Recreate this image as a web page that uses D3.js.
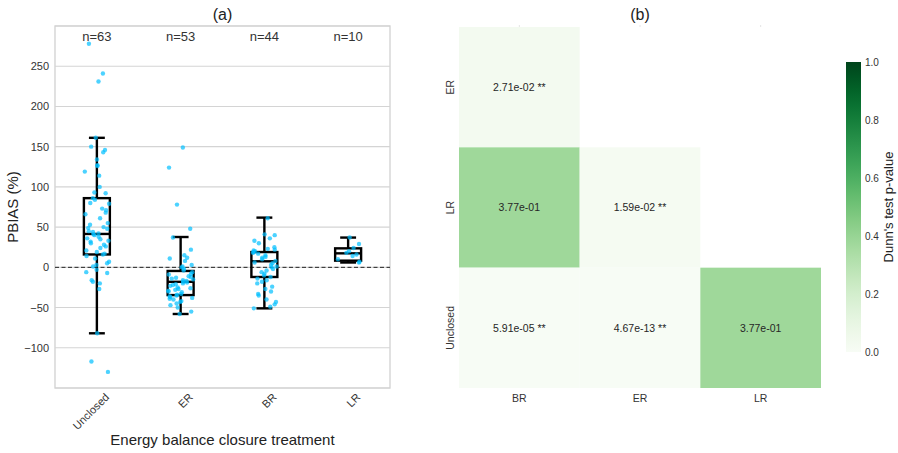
<!DOCTYPE html>
<html><head><meta charset="utf-8">
<script src="https://cdn.jsdelivr.net/npm/d3@7"></script>
<style>body{margin:0;background:#fff} svg{font-family:"Liberation Sans",Arial,sans-serif}</style>
</head><body><svg id="c" width="898" height="453"></svg>
<script>
// ---------- data: panel (a) ----------
const categories = ["Unclosed", "ER", "BR", "LR"];
const countLabels = ["n=63", "n=53", "n=44", "n=10"];
const unclosedVals = [278,241,231,161,150,146,143,134,127,126,119,114,100,93,92,86,84,80,79,73,71,68,66,61,55,53,50,49,48,45,44,42,41,40,38,36,35,33,32,30,28,26,24,21,19,17,16,14,11,7,5,3,1,-3,-6,-7,-16,-18,-20,-27,-82,-117,-130];
const erVals = [149,124,78,48,37,22,15,12,11,8,3,1,0,-2,-4,-6,-8,-9,-11,-12,-13,-14,-15,-16,-17,-18,-19,-20,-21,-22,-23,-25,-26,-27,-28,-29,-30,-31,-33,-34,-35,-36,-37,-38,-39,-40,-42,-43,-45,-47,-50,-55,-58];
const brVals = [61,41,40,36,33,30,25,23,22,21,20,19,18,17,15,13,12,10,8,6,5,3,1,0,-2,-4,-6,-8,-10,-12,-14,-16,-18,-20,-24,-27,-30,-33,-35,-40,-43,-46,-49,-51];
const lrVals = [37,29,24,20,18,16,14,10,7,6];
const boxLow  = [-82, -58, -51, 6];
const boxQ1   = [16, -34.5, -12, 8.3];
const boxMed  = [41.5, -18, 7.5, 17.4];
const boxQ3   = [86, -4.5, 19, 23.6];
const boxHigh = [161, 37.7, 61.8, 37];
const yTicks = [-100, -50, 0, 50, 100, 150, 200, 250];

// ---------- data: panel (b) ----------
const hmRows = ["ER", "LR", "Unclosed"];
const hmCols = ["BR", "ER", "LR"];
const pRowER = [2.71e-02, null, null];
const pRowLR = [3.77e-01, 1.59e-02, null];
const pRowUnclosed = [5.91e-05, 4.67e-13, 3.77e-01];
const cbTicks = [0.0, 0.2, 0.4, 0.6, 0.8, 1.0];

const svg = d3.select("#c");
const txt = "#333";

// ================= panel (a) =================
const A = {l: 55, r: 390, t: 26, b: 388};
const x = d3.scaleBand().domain(categories).range([A.l, A.r]);
const y = d3.scaleLinear().domain([-150, 300]).range([A.b, A.t]);
const ga = svg.append("g");

// grid
ga.selectAll("line.grid").data(y.ticks(9)).join("line")
  .attr("x1", A.l).attr("x2", A.r).attr("y1", d => y(d)).attr("y2", d => y(d))
  .attr("stroke", "#d4d4d4").attr("stroke-width", 1.1);
// frame
ga.append("rect").attr("x", A.l).attr("y", A.t).attr("width", A.r - A.l).attr("height", A.b - A.t)
  .attr("fill", "none").attr("stroke", "#d4d4d4").attr("stroke-width", 1.4);

// y axis
const yAxis = d3.axisLeft(y).tickValues(yTicks).tickSize(0).tickPadding(6)
  .tickFormat(d => d < 0 ? "\u2212" + Math.abs(d) : d);
const gy = ga.append("g").attr("transform", `translate(${A.l},0)`).call(yAxis);
gy.select(".domain").remove();
gy.selectAll("text").attr("font-size", 11).attr("fill", txt).attr("font-family", "Liberation Sans, Arial, sans-serif");

// x axis
const xAxis = d3.axisBottom(x).tickSize(0).tickPadding(6);
const gx = ga.append("g").attr("transform", `translate(0,${A.b})`).call(xAxis);
gx.select(".domain").remove();
gx.selectAll("text").attr("font-size", 11).attr("fill", txt).attr("font-family", "Liberation Sans, Arial, sans-serif")
  .attr("text-anchor", "end").attr("dy", "0.35em")
  .attr("transform", "translate(6,3) rotate(-45)");

// zero line
ga.append("line").attr("x1", A.l).attr("x2", A.r).attr("y1", y(0)).attr("y2", y(0))
  .attr("stroke", "#222").attr("stroke-width", 1).attr("stroke-dasharray", "4,2.5");

// boxes
const bw = x.bandwidth() * 0.31, cw = x.bandwidth() * 0.19;
categories.forEach((c, i) => {
  const cx = x(c) + x.bandwidth() / 2;
  const g = ga.append("g").attr("stroke", "#000").attr("stroke-width", 2.4).attr("fill", "none");
  g.append("line").attr("x1", cx).attr("x2", cx).attr("y1", y(boxHigh[i])).attr("y2", y(boxQ3[i]));
  g.append("line").attr("x1", cx).attr("x2", cx).attr("y1", y(boxQ1[i])).attr("y2", y(boxLow[i]));
  g.append("line").attr("x1", cx - cw / 2).attr("x2", cx + cw / 2).attr("y1", y(boxHigh[i])).attr("y2", y(boxHigh[i]));
  g.append("line").attr("x1", cx - cw / 2).attr("x2", cx + cw / 2).attr("y1", y(boxLow[i])).attr("y2", y(boxLow[i]));
  g.append("rect").attr("x", cx - bw / 2).attr("width", bw).attr("y", y(boxQ3[i])).attr("height", y(boxQ1[i]) - y(boxQ3[i]));
  g.append("line").attr("x1", cx - bw / 2).attr("x2", cx + bw / 2).attr("y1", y(boxMed[i])).attr("y2", y(boxMed[i]));
});

// points (deterministic jitter)
const groups = [unclosedVals, erVals, brVals, lrVals];
const jit = i => { const s = Math.sin(i * 12.9898 + 78.233) * 43758.5453; return (s - Math.floor(s)) - 0.5; };
groups.forEach((vals, gi) => {
  const cx = x(categories[gi]) + x.bandwidth() / 2;
  ga.append("g").selectAll("circle").data(vals).join("circle")
    .attr("cx", (d, i) => cx + jit(i + gi * 100) * x.bandwidth() * 0.3)
    .attr("cy", d => y(d)).attr("r", 2.2)
    .attr("fill", "deepskyblue").attr("fill-opacity", 0.7);
});

// counts
ga.selectAll("text.n").data(countLabels).join("text")
  .attr("x", (d, i) => x(categories[i]) + x.bandwidth() / 2).attr("y", 41)
  .attr("text-anchor", "middle").attr("font-size", 13).attr("fill", txt).text(d => d);

ga.append("text").attr("x", (A.l + A.r) / 2).attr("y", 20).attr("text-anchor", "middle")
  .attr("font-size", 16).attr("fill", "#222").text("(a)");
ga.append("text").attr("transform", `translate(18,${(A.t + A.b) / 2}) rotate(-90)`).attr("text-anchor", "middle")
  .attr("font-size", 15).attr("fill", "#222").text("PBIAS (%)");
ga.append("text").attr("x", (A.l + A.r) / 2).attr("y", 445).attr("text-anchor", "middle")
  .attr("font-size", 15).attr("fill", "#222").text("Energy balance closure treatment");

// ================= panel (b) =================
const B = {l: 459, r: 821, t: 27, b: 388};
const hx = d3.scaleBand().domain(hmCols).range([B.l, B.r]);
const hy = d3.scaleBand().domain(hmRows).range([B.t, B.b]);
const color = d3.scaleSequential(d3.interpolateGreens).domain([0, 1]);
const gb = svg.append("g");
const rowsData = [pRowER, pRowLR, pRowUnclosed];
const fmt = p => {
  const [m, e] = p.toExponential(2).split("e");
  const ev = Math.abs(+e);
  return m + "e" + (+e < 0 ? "-" : "+") + (ev < 10 ? "0" + ev : ev);
};
const cells = [];
rowsData.forEach((row, ri) => row.forEach((p, ci) => { if (p !== null) cells.push({r: hmRows[ri], c: hmCols[ci], p}); }));
gb.selectAll("rect.cell").data(cells).join("rect")
  .attr("x", d => hx(d.c)).attr("y", d => hy(d.r))
  .attr("width", hx.bandwidth()).attr("height", hy.bandwidth())
  .attr("fill", d => color(d.p));
gb.selectAll("text.cell").data(cells).join("text")
  .attr("x", d => hx(d.c) + hx.bandwidth() / 2).attr("y", d => hy(d.r) + hy.bandwidth() / 2)
  .attr("dy", "0.35em").attr("text-anchor", "middle").attr("font-size", 10.5).attr("fill", "#262626")
  .text(d => fmt(d.p) + (d.p < 0.05 ? " **" : ""));

// faint top tick marks
gb.selectAll("line.tt").data(hmCols).join("line")
  .attr("x1", d => hx(d) + hx.bandwidth() / 2).attr("x2", d => hx(d) + hx.bandwidth() / 2)
  .attr("y1", B.t - 2).attr("y2", B.t).attr("stroke", "#ddd").attr("stroke-width", 0.8);

// heatmap axes
gb.selectAll("text.hx").data(hmCols).join("text")
  .attr("x", d => hx(d) + hx.bandwidth() / 2).attr("y", B.b + 14).attr("text-anchor", "middle")
  .attr("font-size", 10.5).attr("fill", txt).text(d => d);
gb.selectAll("text.hy").data(hmRows).join("text")
  .attr("transform", d => `translate(${B.l - 5},${hy(d) + hy.bandwidth() / 2}) rotate(-90)`)
  .attr("text-anchor", "middle").attr("font-size", 10.5).attr("fill", txt).text(d => d);

gb.append("text").attr("x", 640).attr("y", 20).attr("text-anchor", "middle")
  .attr("font-size", 16).attr("fill", "#222").text("(b)");

// colorbar
const CB = {x: 846, w: 15, t: 62, b: 352};
const cy = d3.scaleLinear().domain([0, 1]).range([CB.b, CB.t]);
const defs = svg.append("defs");
const grad = defs.append("linearGradient").attr("id", "cbg").attr("x1", 0).attr("y1", 1).attr("x2", 0).attr("y2", 0);
d3.range(0, 1.0001, 0.05).forEach(t => grad.append("stop").attr("offset", t).attr("stop-color", color(t)));
gb.append("rect").attr("x", CB.x).attr("y", CB.t).attr("width", CB.w).attr("height", CB.b - CB.t).attr("fill", "url(#cbg)");
const cAxis = d3.axisRight(cy).tickValues(cbTicks).tickSize(0).tickPadding(4).tickFormat(d3.format(".1f"));
const gc = gb.append("g").attr("transform", `translate(${CB.x + CB.w},0)`).call(cAxis);
gc.select(".domain").remove();
gc.selectAll("text").attr("font-size", 10).attr("fill", txt).attr("font-family", "Liberation Sans, Arial, sans-serif");
gb.append("text").attr("transform", `translate(893,${(CB.t + CB.b) / 2}) rotate(-90)`).attr("text-anchor", "middle")
  .attr("font-size", 13).attr("fill", "#222").text("Dunn's test p-value");
</script></body></html>
